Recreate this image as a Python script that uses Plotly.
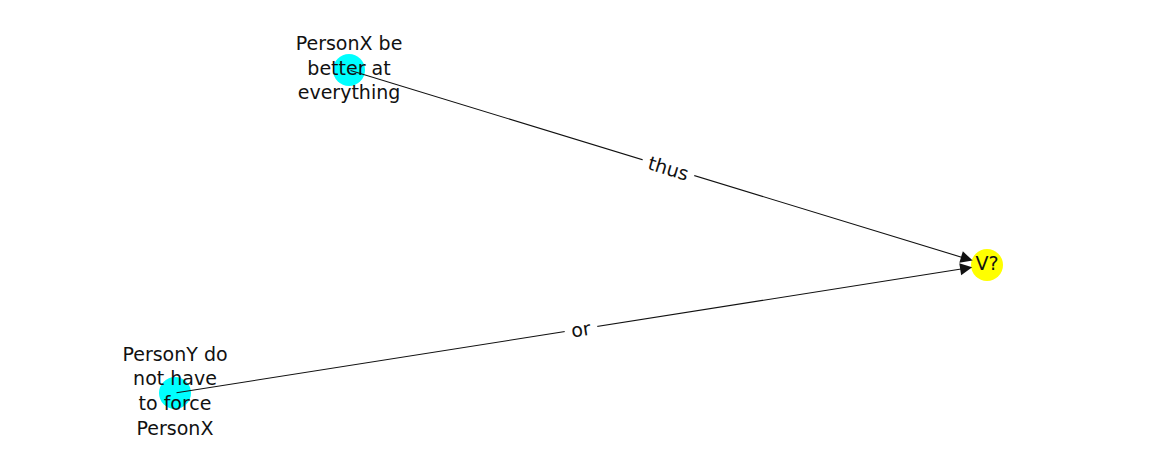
import plotly.graph_objects as go
import math

node_names = ["PersonX be<br>better at<br>everything", "PersonY do<br>not have<br>to force<br>PersonX", "V?"]
node_x = [349, 175, 987]
node_y = [69, 392, 264]
node_colors = ["#00ffff", "#00ffff", "#ffff00"]
edges = [(0, 2, "thus"), (1, 2, "or")]

fig = go.Figure()
fig.add_trace(go.Scatter(x=node_x, y=node_y, mode="markers+text",
    marker=dict(size=32, color=node_colors, line=dict(width=0)),
    text=node_names, textposition="middle center",
    textfont=dict(family="DejaVu Sans", size=19, color="#111"),
    hoverinfo="skip"))

for s, t, lab in edges:
    fig.add_annotation(x=node_x[t], y=node_y[t], ax=node_x[s], ay=node_y[s],
        xref="x", yref="y", axref="x", ayref="y", showarrow=True,
        arrowhead=2, arrowsize=2.2, arrowwidth=1.1, arrowcolor="#111",
        standoff=15, text="")
    dx = node_x[t] - node_x[s]; dy = node_y[t] - node_y[s]
    ang = math.degrees(math.atan2(dy, dx))
    fig.add_annotation(x=(node_x[s]+node_x[t])/2, y=(node_y[s]+node_y[t])/2,
        xref="x", yref="y", text=lab, showarrow=False, textangle=ang,
        bgcolor="white", borderpad=6,
        font=dict(family="DejaVu Sans", size=19, color="#111"))

fig.update_layout(width=1162, height=462, margin=dict(l=0, r=0, t=0, b=0),
    plot_bgcolor="white", paper_bgcolor="white", showlegend=False,
    xaxis=dict(range=[8, 1170], visible=False),
    yaxis=dict(range=[469, 7], visible=False))
fig.write_html("out.html")
